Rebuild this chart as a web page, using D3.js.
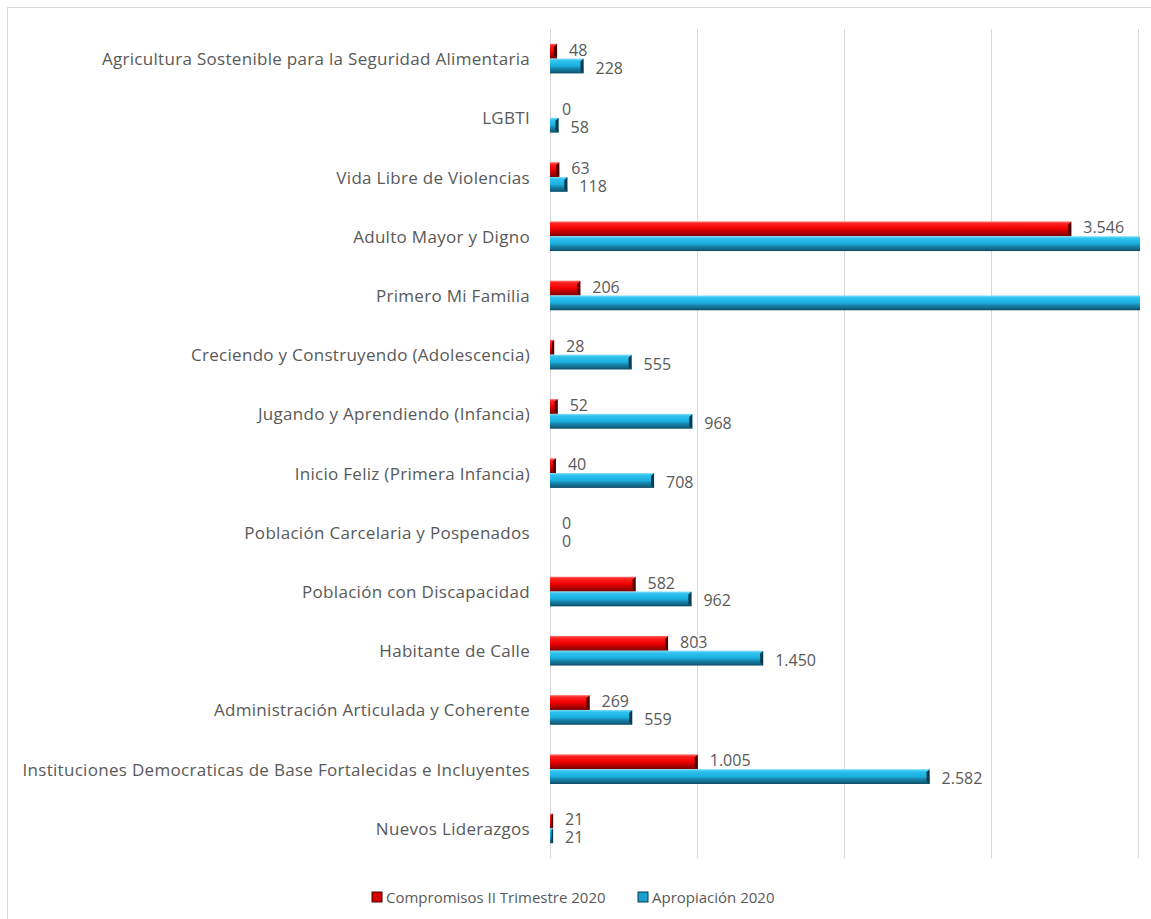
<!DOCTYPE html>
<html lang="es">
<head>
  <meta charset="UTF-8">
  <script src="https://d3js.org/d3.v7.min.js"></script>
  <style>
    html, body { margin: 0; padding: 0; background: #fff; }
    svg { display: block; font-family: "Open Sans", "Noto Sans", sans-serif; }
  </style>
</head>
<body>
  <svg id="chart" width="1151" height="919"></svg>
  <script>
    // categories, top to bottom
    const categories = [
      "Agricultura Sostenible para la Seguridad Alimentaria",
      "LGBTI",
      "Vida Libre de Violencias",
      "Adulto Mayor y Digno",
      "Primero Mi Familia",
      "Creciendo y Construyendo (Adolescencia)",
      "Jugando y Aprendiendo (Infancia)",
      "Inicio Feliz (Primera Infancia)",
      "Población Carcelaria y Pospenados",
      "Población con Discapacidad",
      "Habitante de Calle",
      "Administración Articulada y Coherente",
      "Instituciones Democraticas de Base Fortalecidas e Incluyentes",
      "Nuevos Liderazgos"
    ];
    const compromisos = [48, 0, 63, 3546, 206, 28, 52, 40, 0, 582, 803, 269, 1005, 21];
    // the two clipped bars run past the axis end; their labels are out of view
    const apropiacion = [228, 58, 118, 4600, 4500, 555, 968, 708, 0, 962, 1450, 559, 2582, 21];
    const seriesNames = ["Compromisos II Trimestre 2020", "Apropiación 2020"];
    const xTicks = [0, 1000, 2000, 3000, 4000];

    const svg = d3.select("#chart");
    const margin = { top: 29, left: 550, right: 1138, bottom: 858 };

    const fmt = d3.formatLocale({ decimal: ",", thousands: ".", grouping: [3], currency: ["$", ""] }).format(",d");

    const x = d3.scaleLinear().domain([0, 4000]).range([margin.left, margin.right]);
    const y = d3.scaleBand().domain(categories).range([margin.top, margin.bottom])
      .paddingInner(0.5).paddingOuter(0.25);
    const ySub = d3.scaleBand().domain([0, 1]).range([0, y.bandwidth()]);

    // gradients for the bevelled look
    const defs = svg.append("defs");
    function grad(id, stops) {
      const g = defs.append("linearGradient").attr("id", id)
        .attr("x1", 0).attr("y1", 0).attr("x2", 0).attr("y2", 1);
      stops.forEach(s => g.append("stop").attr("offset", s[0]).attr("stop-color", s[1]));
    }
    grad("gRed", [[0, "#ff7070"], [0.15, "#ff2020"], [0.5, "#ee0000"], [0.7, "#c00000"], [0.85, "#a00000"], [1, "#700000"]]);
    grad("gBlue", [[0, "#7fdcf8"], [0.15, "#2ec3f0"], [0.5, "#1aaedc"], [0.7, "#177fa6"], [0.85, "#136b8c"], [1, "#0c4a62"]]);
    const fills = ["url(#gRed)", "url(#gBlue)"];
    const caps = ["#4a0000", "#0a3a4c"];
    const legendColors = ["#d40000", "#1a9fcf"];

    defs.append("clipPath").attr("id", "plotClip").append("rect")
      .attr("x", margin.left).attr("y", 0).attr("width", margin.right - margin.left + 2).attr("height", 919);

    // frame
    svg.append("rect").attr("x", 7.5).attr("y", 7.5).attr("width", 1160).attr("height", 930)
      .attr("fill", "none").attr("stroke", "#d9d9d9");

    // gridlines
    svg.append("g").selectAll("line").data(xTicks).join("line")
      .attr("x1", d => Math.round(x(d)) + 0.5).attr("x2", d => Math.round(x(d)) + 0.5)
      .attr("y1", margin.top).attr("y2", margin.bottom)
      .attr("stroke", "#d9d9d9").attr("stroke-width", 1);

    // category labels
    svg.append("g").selectAll("text").data(categories).join("text")
      .attr("x", 530).attr("y", d => y(d) + y.bandwidth() / 2)
      .attr("text-anchor", "end").attr("dominant-baseline", "central")
      .attr("font-size", 17).attr("letter-spacing", 0.3).attr("fill", "#595959")
      .text(d => d);

    const rows = categories.map((c, i) => ({ c, vals: [compromisos[i], apropiacion[i]] }));

    const bars = svg.append("g").attr("clip-path", "url(#plotClip)");
    rows.forEach(r => {
      r.vals.forEach((v, s) => {
        if (v <= 0) return;
        const y0 = y(r.c) + ySub(s);
        const h = ySub.bandwidth();
        const x0 = x(0), x1 = x(v);
        bars.append("rect").attr("x", x0).attr("y", y0).attr("width", x1 - x0).attr("height", h)
          .attr("fill", fills[s]);
        const b = Math.min(3, (x1 - x0) / 2);
        bars.append("polygon")
          .attr("points", [[x1 - b, y0 + b], [x1, y0], [x1, y0 + h], [x1 - b, y0 + h - b]].join(" "))
          .attr("fill", caps[s]);
      });
    });

    // value labels
    const labels = svg.append("g").attr("font-size", 16).attr("fill", "#595959");
    rows.forEach(r => {
      r.vals.forEach((v, s) => {
        const lx = x(v) + 12;
        if (lx > 1151) return;
        labels.append("text")
          .attr("x", lx).attr("y", y(r.c) + ySub(s) + ySub.bandwidth() / 2 + (s === 0 ? -1.5 : 1.5))
          .attr("dominant-baseline", "central")
          .text(fmt(v));
      });
    });

    // legend
    const legend = svg.append("g").attr("font-size", 15).attr("fill", "#595959");
    const legendX = [372, 638];
    seriesNames.forEach((n, s) => {
      legend.append("rect").attr("x", legendX[s]).attr("y", 892).attr("width", 10).attr("height", 10)
        .attr("fill", legendColors[s]).attr("stroke", caps[s]).attr("stroke-width", 1);
      legend.append("text").attr("x", legendX[s] + 14).attr("y", 897)
        .attr("dominant-baseline", "central").text(n);
    });
  </script>
</body>
</html>
